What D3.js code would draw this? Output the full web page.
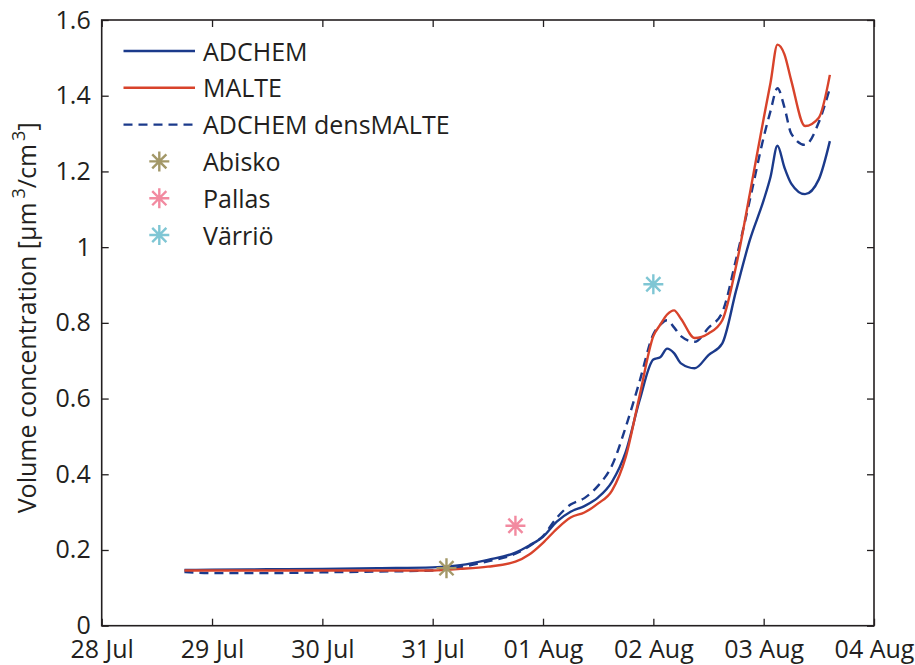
<!DOCTYPE html>
<html>
<head>
<meta charset="utf-8">
<script src="https://cdn.jsdelivr.net/npm/d3@7"></script>
<style>
  html, body { margin: 0; padding: 0; background: #fff; }
  svg { display: block; font-family: "Open Sans", "Noto Sans", sans-serif; }
</style>
</head>
<body>
<svg id="chart" width="915" height="665"></svg>
<script>
// ---- data ----
const times = [
  "2010-07-28 18:00","2010-07-29 00:00","2010-07-29 12:00","2010-07-30 00:00","2010-07-30 12:00",
  "2010-07-31 00:00","2010-07-31 06:00","2010-07-31 12:00","2010-07-31 18:00","2010-07-31 21:00",
  "2010-08-01 00:00","2010-08-01 03:00","2010-08-01 06:00","2010-08-01 09:00","2010-08-01 12:00",
  "2010-08-01 15:00","2010-08-01 18:00","2010-08-01 21:00","2010-08-02 00:00","2010-08-02 01:30",
  "2010-08-02 03:00","2010-08-02 04:30","2010-08-02 06:00","2010-08-02 09:00","2010-08-02 12:00",
  "2010-08-02 15:00","2010-08-02 18:00","2010-08-02 21:00","2010-08-03 00:00","2010-08-03 01:30",
  "2010-08-03 03:00","2010-08-03 04:30","2010-08-03 06:00","2010-08-03 09:00","2010-08-03 12:00",
  "2010-08-03 14:24"
];
const adchem = [0.147,0.148,0.149,0.150,0.152,0.154,0.160,0.174,0.193,0.212,
                0.235,0.275,0.301,0.316,0.339,0.380,0.459,0.595,0.703,0.709,
                0.732,0.720,0.693,0.680,0.715,0.746,0.885,1.019,1.124,1.186,
                1.268,1.211,1.168,1.140,1.179,1.280];
const malte  = [0.146,0.146,0.146,0.146,0.146,0.146,0.150,0.156,0.169,0.188,
                0.219,0.256,0.286,0.299,0.323,0.357,0.446,0.607,0.765,0.795,
                0.822,0.833,0.811,0.760,0.772,0.807,0.950,1.142,1.340,1.435,
                1.535,1.510,1.440,1.320,1.342,1.455];
const adchemDens = [0.142,0.139,0.139,0.141,0.143,0.146,0.155,0.170,0.190,0.210,
                0.237,0.285,0.320,0.337,0.370,0.423,0.525,0.645,0.770,0.795,
                0.807,0.788,0.765,0.750,0.787,0.828,0.968,1.125,1.290,1.360,
                1.420,1.370,1.300,1.270,1.330,1.420];

const stationNames = ["Abisko","Pallas","Värriö"];
const stationTimes = ["2010-07-31 03:00","2010-07-31 18:00","2010-08-02 00:00"];
const stationValues = [0.152,0.264,0.902];

const seriesNames = ["ADCHEM","MALTE","ADCHEM densMALTE"];
const xTickLabels = ["28 Jul","29 Jul","30 Jul","31 Jul","01 Aug","02 Aug","03 Aug","04 Aug"];
const xTickTimes  = ["2010-07-28 00:00","2010-07-29 00:00","2010-07-30 00:00","2010-07-31 00:00",
                     "2010-08-01 00:00","2010-08-02 00:00","2010-08-03 00:00","2010-08-04 00:00"];
const yTicks = [0,0.2,0.4,0.6,0.8,1,1.2,1.4,1.6];

// ---- layout ----
const parse = d3.timeParse("%Y-%m-%d %H:%M");
const L = 101.7, R = 874, T = 20, B = 625.7;
const ink = "#231f20";
const blue = "#1b3a8b", red = "#d8432b";
const stationColors = ["#a39868","#f28aa0","#7fc6d4"];

const svg = d3.select("#chart");
const x = d3.scaleTime().domain([parse(xTickTimes[0]), parse(xTickTimes[xTickTimes.length-1])]).range([L, R]);
const y = d3.scaleLinear().domain([0, 1.6]).range([B, T]);

const tickDates = xTickTimes.map(parse);
const fmtX = d => xTickLabels[tickDates.findIndex(t => +t === +d)];

function styleAxis(g) {
  g.select(".domain").remove();
  g.selectAll(".tick line").attr("stroke", ink).attr("stroke-width", 1.3);
  g.selectAll(".tick text").attr("fill", ink).attr("font-size", 25)
    .attr("font-family", "'Open Sans', 'Noto Sans', sans-serif");
}

svg.append("g").attr("transform", `translate(0,${B})`)
  .call(d3.axisBottom(x).tickValues(tickDates).tickFormat(fmtX).tickSizeInner(-7).tickSizeOuter(0).tickPadding(15))
  .call(styleAxis);
svg.append("g").attr("transform", `translate(0,${T})`)
  .call(d3.axisTop(x).tickValues(tickDates).tickFormat("").tickSizeInner(-7).tickSizeOuter(0))
  .call(styleAxis);
svg.append("g").attr("transform", `translate(${L},0)`)
  .call(d3.axisLeft(y).tickValues(yTicks).tickFormat(d3.format("~g")).tickSizeInner(-7).tickSizeOuter(0).tickPadding(11))
  .call(styleAxis);
svg.append("g").attr("transform", `translate(${R},0)`)
  .call(d3.axisRight(y).tickValues(yTicks).tickFormat("").tickSizeInner(-7).tickSizeOuter(0))
  .call(styleAxis);

// frame
svg.append("rect").attr("x", L).attr("y", T).attr("width", R - L).attr("height", B - T)
  .attr("fill", "none").attr("stroke", ink).attr("stroke-width", 1.6);

// y label
const yl = svg.append("text")
  .attr("transform", `translate(36,${(T + B) / 2 - 5}) rotate(-90)`)
  .attr("text-anchor", "middle").attr("fill", ink).attr("font-size", 25);
yl.append("tspan").text("Volume concentration [μm");
yl.append("tspan").attr("dx", 4).attr("dy", -11).attr("font-size", 18).text("3");
yl.append("tspan").attr("dy", 11).text("/cm");
yl.append("tspan").attr("dx", 3).attr("dy", -11).attr("font-size", 18).text("3");
yl.append("tspan").attr("dy", 11).text("]");

// lines
const tDates = times.map(parse);
const line = d3.line().x(d => x(d[0])).y(d => y(d[1])).curve(d3.curveMonotoneX);
const seriesData = [adchem, malte, adchemDens];
const seriesStyle = [
  {color: blue, dash: null},
  {color: red, dash: null},
  {color: blue, dash: "9,6"}
];
// draw order: dashed, adchem, malte
[2, 0, 1].forEach(i => {
  svg.append("path")
    .datum(tDates.map((t, k) => [t, seriesData[i][k]]))
    .attr("d", line)
    .attr("fill", "none")
    .attr("stroke", seriesStyle[i].color)
    .attr("stroke-width", 2.4)
    .attr("stroke-linejoin", "round")
    .attr("stroke-dasharray", seriesStyle[i].dash);
});

// asterisk marker
function asterisk(g, cx, cy, color) {
  const r = 10;
  const p = d3.path();
  for (let a = 0; a < 4; a++) {
    const ang = a * Math.PI / 4;
    p.moveTo(cx - r * Math.cos(ang), cy - r * Math.sin(ang));
    p.lineTo(cx + r * Math.cos(ang), cy + r * Math.sin(ang));
  }
  g.append("path").attr("d", p.toString()).attr("stroke", color)
    .attr("stroke-width", 2.4).attr("fill", "none");
}
stationNames.forEach((n, i) => {
  asterisk(svg, x(parse(stationTimes[i])), y(stationValues[i]), stationColors[i]);
});

// legend
const rowY = i => 51 + i * 36.8;
const leg = svg.append("g");
seriesNames.forEach((n, i) => {
  leg.append("line").attr("x1", 123.5).attr("x2", 195).attr("y1", rowY(i)).attr("y2", rowY(i))
    .attr("stroke", seriesStyle[i].color).attr("stroke-width", 2.4)
    .attr("stroke-dasharray", seriesStyle[i].dash);
  leg.append("text").attr("x", 203).attr("y", rowY(i) + 9.5).attr("fill", ink)
    .attr("font-size", 25).text(n);
});
stationNames.forEach((n, i) => {
  const ry = rowY(i + 3);
  asterisk(leg, 159.3, ry, stationColors[i]);
  leg.append("text").attr("x", 203).attr("y", ry + 10).attr("fill", ink)
    .attr("font-size", 25).text(n);
});
</script>
</body>
</html>
